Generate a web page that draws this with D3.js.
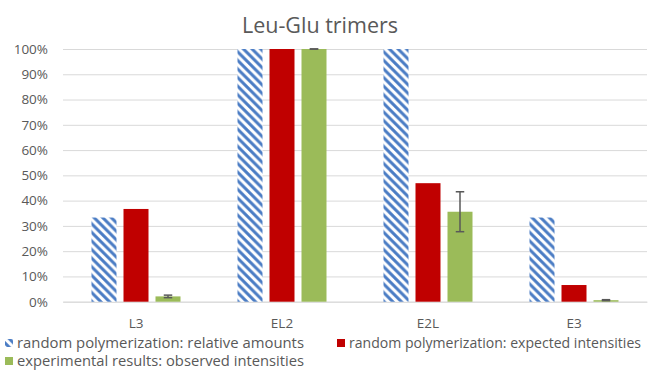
<!DOCTYPE html>
<html>
<head>
<meta charset="utf-8">
<script src="https://cdn.jsdelivr.net/npm/d3@7"></script>
<style>
  html, body { margin: 0; padding: 0; background: #ffffff; }
  svg { display: block; font-family: "Open Sans", "Liberation Sans", sans-serif; }
</style>
</head>
<body>
<svg id="chart" width="650" height="370"></svg>
<script>
// Trimer categories and the three compared series (fractions of the maximum)
const categories = ["L3", "EL2", "E2L", "E3"];
const seriesNames = [
  "random polymerization: relative amounts",
  "random polymerization: expected intensities",
  "experimental results: observed intensities"
];
const relativeAmounts = [0.333, 1.0, 1.0, 0.333];
const expectedIntensities = [0.367, 1.0, 0.469, 0.066];
const observedIntensities = [0.021, 1.0, 0.356, 0.006];
const observedErrors = [0.005, 0.0, 0.079, 0.002];
const yTicks = [0, 0.1, 0.2, 0.3, 0.4, 0.5, 0.6, 0.7, 0.8, 0.9, 1.0];
const chartTitle = "Leu-Glu trimers";

const svg = d3.select("#chart");
const margin = { left: 63, right: 3, top: 49, bottom: 68 };
const W = 650, H = 370;
const plotBottom = 301.7;

const x0 = d3.scaleBand().domain(categories).range([margin.left, W - margin.right]).paddingInner(0).paddingOuter(0);
const groupWidth = 89;
const x1 = d3.scaleBand().domain(d3.range(3)).range([0, groupWidth]).paddingInner(7 / 32);
const y = d3.scaleLinear().domain([0, 1]).range([plotBottom, margin.top]);

// Diagonal hatch for the relative-amount bars
const defs = svg.append("defs");
const P = 8.6;
const pat = defs.append("pattern")
  .attr("id", "hatch").attr("patternUnits", "userSpaceOnUse")
  .attr("width", P).attr("height", P);
pat.append("rect").attr("width", P).attr("height", P).attr("fill", "#ffffff");
pat.append("path")
  .attr("d", `M-2,-2 L${P + 2},${P + 2} M-2,${P - 2} L2,${P + 2} M${P - 2},-2 L${P + 2},2`)
  .attr("stroke", "#4A7CC4").attr("stroke-width", 3);

// Title
svg.append("text")
  .attr("x", 320).attr("y", 33)
  .attr("text-anchor", "middle")
  .attr("font-size", 21.5)
  .attr("fill", "#595959")
  .text(chartTitle);

// Gridlines and y labels
const yAxis = d3.axisLeft(y).tickValues(yTicks).tickFormat(d3.format(".0%")).tickSize(-(W - margin.right - margin.left)).tickPadding(15);
const gy = svg.append("g").attr("transform", `translate(${margin.left},0)`).call(yAxis);
gy.select(".domain").remove();
gy.selectAll(".tick line").attr("stroke", "#D9D9D9").attr("stroke-width", 1);
gy.selectAll(".tick text").attr("fill", "#595959").attr("font-size", 13.5).attr("font-family", "Open Sans, sans-serif");

// Category axis
const xAxis = d3.axisBottom(x0).tickSize(0).tickPadding(17);
const gx = svg.append("g").attr("transform", `translate(0,${plotBottom})`).call(xAxis);
gx.select(".domain").attr("stroke", "#D9D9D9");
gx.selectAll(".tick text").attr("fill", "#595959").attr("font-size", 13.5).attr("font-family", "Open Sans, sans-serif");

const seriesValues = [relativeAmounts, expectedIntensities, observedIntensities];
const fills = ["url(#hatch)", "#C00000", "#9BBB59"];

const groups = svg.append("g").selectAll("g")
  .data(categories)
  .join("g")
  .attr("transform", c => `translate(${x0(c) + (x0.bandwidth() - groupWidth) / 2},0)`);

groups.selectAll("rect")
  .data((c, i) => seriesValues.map((vals, s) => ({ s, v: vals[i] })))
  .join("rect")
  .attr("x", d => x1(d.s))
  .attr("width", x1.bandwidth())
  .attr("y", d => y(d.v))
  .attr("height", d => y(0) - y(d.v))
  .attr("fill", d => fills[d.s]);

// Error bars on observed intensities
const capW = 8.5;
groups.each(function (c, i) {
  const g = d3.select(this);
  const cx = x1(2) + x1.bandwidth() / 2;
  const v = observedIntensities[i], e = observedErrors[i];
  const eg = g.append("g").attr("stroke", "#595959").attr("stroke-width", 1.5);
  eg.append("line").attr("x1", cx).attr("x2", cx).attr("y1", y(v - e)).attr("y2", y(v + e));
  eg.append("line").attr("x1", cx - capW / 2).attr("x2", cx + capW / 2).attr("y1", y(v + e)).attr("y2", y(v + e));
  eg.append("line").attr("x1", cx - capW / 2).attr("x2", cx + capW / 2).attr("y1", y(v - e)).attr("y2", y(v - e));
});

// Legend (condensed so each entry fits its slot)
const legendItems = [
  { name: seriesNames[0], fill: "url(#hatch)", x: 5, y: 343, w: 287 },
  { name: seriesNames[1], fill: "#C00000", x: 337, y: 343, w: 292 },
  { name: seriesNames[2], fill: "#9BBB59", x: 5, y: 361, w: 287 }
];
const lg = svg.append("g").selectAll("g").data(legendItems).join("g")
  .attr("transform", d => `translate(${d.x},${d.y})`);
lg.append("rect").attr("x", 0).attr("y", -4).attr("width", 8).attr("height", 8).attr("fill", d => d.fill);
lg.append("text").attr("x", 12).attr("y", 0).attr("dy", "0.35em")
  .attr("font-size", 13.7).attr("fill", "#595959")
  .attr("textLength", d => d.w).attr("lengthAdjust", "spacingAndGlyphs")
  .text(d => d.name);
</script>
</body>
</html>
